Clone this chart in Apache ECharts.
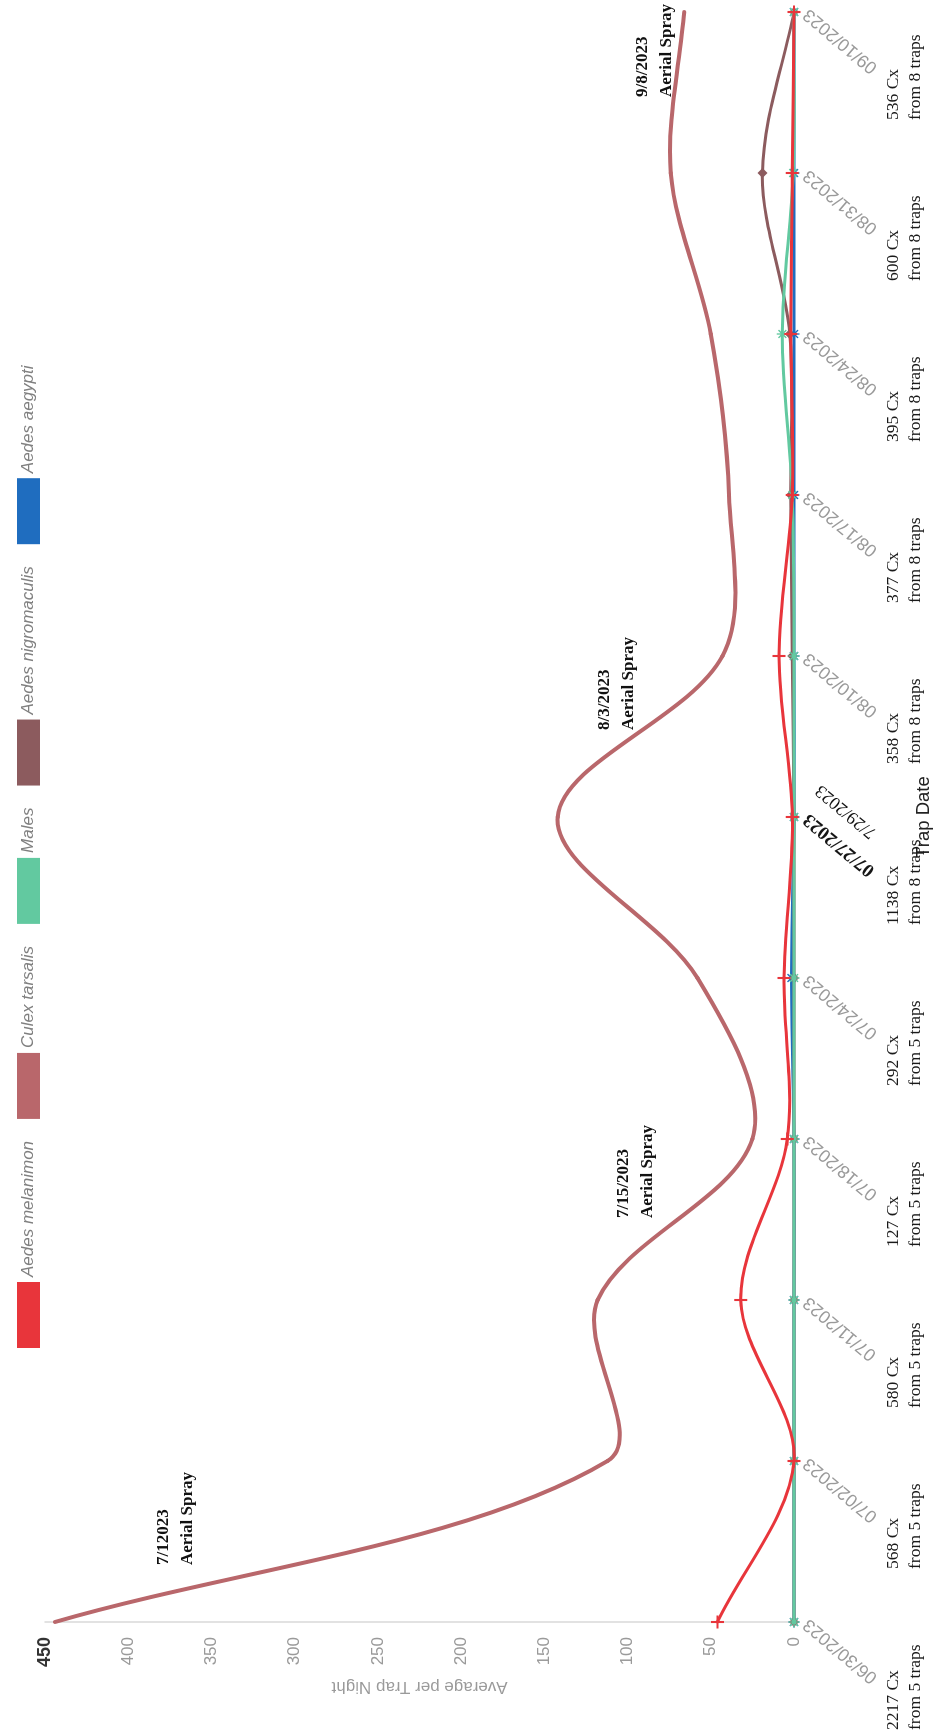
<!DOCTYPE html>
<html>
<head>
<meta charset="utf-8">
<script src="https://cdn.jsdelivr.net/npm/echarts@6/dist/echarts.min.js"></script>
<style>
html,body{margin:0;padding:0;background:#fff;}
#page{position:relative;width:942px;height:1731px;overflow:hidden;background:#fff;}
#chart{position:absolute;left:0;top:0;width:1731px;height:942px;transform-origin:0 0;transform:translate(0,1731px) rotate(-90deg);}
</style>
</head>
<body>
<div id="page"><div id="chart"></div></div>
<script>
// ---- data ----
const categories = ['06/30/2023','07/02/2023','07/11/2023','07/18/2023','07/24/2023','07/27/2023','08/10/2023','08/17/2023','08/24/2023','08/31/2023','09/10/2023'];
const aedesMelanimon   = [46, 0, 32, 4, 6, 1, 9, 1, 2, 1, 0];
const culexTarsalis    = [444, 112, 118, 25, 58, 142, 43, 39, 50, 74, 66];
const males            = [0, 0, 0, 0, 0, 0, 0, 1, 7, 0.5, 0];
const aedesNigromaculis= [0, 0, 0, 0, 0, 0, 1, 2, 2.5, 19, 0];
const aedesAegypti     = [0, 0, 0, 0, 1.5, 0, 0, 0, 0, 0, 0];
const cxCounts   = ['2217 Cx','568 Cx','580 Cx','127 Cx','292 Cx','1138 Cx','358 Cx','377 Cx','395 Cx','600 Cx','536 Cx'];
const trapCounts = ['from 5 traps','from 5 traps','from 5 traps','from 5 traps','from 5 traps','from 8 traps','from 8 traps','from 8 traps','from 8 traps','from 8 traps','from 8 traps'];
const valueTicks = [0, 450, 50];   // min, max, interval
const sprayNotes = ['7/12023\nAerial Spray','7/15/2023\nAerial Spray','8/3/2023\nAerial Spray','9/8/2023\nAerial Spray'];
const dateCorrection = '7/29/2023';

// ---- chart ----
const SANS = 'Liberation Sans, Arial, sans-serif';
const SERIF = 'Liberation Serif, Times New Roman, serif';
const PLUS = 'M0,4.2H10V5.8H0Z M4.2,0H5.8V10H4.2Z';
const STAR = 'M4.4,0h1.2v10h-1.2z M0,4.4h10v1.2h-10z M1.0,1.9l0.9,-0.9l7.1,7.1l-0.9,0.9z M8.1,1.0l0.9,0.9l-7.1,7.1l-0.9,-0.9z';
const DIAMOND = 'M5,0L10,5L5,10L0,5Z';
const SMOOTH = 0.33;

const chart = echarts.init(document.getElementById('chart'), null, {width:1731, height:942});

// Excel-like smoothed line: control points from neighbouring points (no clamping),
// all positions come from the axes via api.coord.
function ctrl(P, k, n, dir) {
  const p = P(k), prev = P(Math.max(k - 1, 0)), next = P(Math.min(k + 1, n - 1));
  const vx = next[0] - prev[0], vy = next[1] - prev[1];
  const lp = Math.hypot(p[0] - prev[0], p[1] - prev[1]);
  const ln = Math.hypot(next[0] - p[0], next[1] - p[1]);
  const r = (lp + ln) ? ln / (lp + ln) : 0.5;
  if (dir === 'out') return [p[0] + vx * SMOOTH * r, p[1] + vy * SMOOTH * r];
  return [p[0] - vx * SMOOTH * (1 - r), p[1] - vy * SMOOTH * (1 - r)];
}

function curveSeries(name, values, color, width, marker, size) {
  return {
    name, type:'custom', coordinateSystem:'cartesian2d',
    data: values.map((v, i) => [i, v]),
    itemStyle:{color},
    clip:false,
    silent:true,
    animation:false,
    renderItem:(params, api) => {
      const i = params.dataIndex, n = values.length;
      const P = k => api.coord([k, values[k]]);
      const children = [];
      if (i < n - 1) {
        const p0 = P(i), p1 = P(i + 1);
        const c0 = ctrl(P, i, n, 'out'), c1 = ctrl(P, i + 1, n, 'in');
        children.push({
          type:'bezierCurve',
          shape:{x1:p0[0], y1:p0[1], x2:p1[0], y2:p1[1], cpx1:c0[0], cpy1:c0[1], cpx2:c1[0], cpy2:c1[1]},
          style:{stroke:color, lineWidth:width, fill:null, lineCap:'round'}
        });
      }
      if (marker) {
        const p = P(i);
        children.push({
          type:'path',
          shape:{pathData:marker, x:p[0] - size / 2, y:p[1] - size / 2, width:size, height:size, layout:'cover'},
          style:{fill:color}
        });
      }
      return {type:'group', children};
    }
  };
}

function note(text, x, y) {
  return {
    type:'text', x, y, z:100,
    style:{text, fill:'#111', fontFamily:SERIF, fontWeight:'bold', fontSize:17, lineHeight:24, align:'left', verticalAlign:'top'}
  };
}

chart.setOption({
  backgroundColor:'#fff',
  animation:false,
  legend:{
    left:378, top:12, icon:'rect', itemWidth:66, itemHeight:23, itemGap:22,
    data:['Aedes melanimon','Culex tarsalis','Males','Aedes nigromaculis','Aedes aegypti'],
    textStyle:{fontFamily:SANS, fontStyle:'italic', fontSize:17, color:'#808080'}
  },
  grid:{left:109, right:12, top:45, bottom:148, outerBoundsMode:'none', containLabel:false},
  xAxis:[{
    type:'category', data:categories, boundaryGap:false,
    axisLine:{show:true, lineStyle:{color:'#b8b8b8', width:1.5}},
    axisTick:{show:false},
    axisLabel:{
      interval:0, rotate:50, margin:12, fontFamily:SANS, fontSize:18, color:'#9a9a9a',
      formatter:(v) => v === '07/27/2023' ? '{dk|' + v + '}' : v,
      rich:{dk:{fontFamily:SERIF, fontWeight:'bold', fontSize:19, color:'#151515'}}
    },
    name:'Trap Date', nameLocation:'middle', nameGap:120, nameMoveOverlap:false,
    nameTextStyle:{fontFamily:SANS, fontSize:18.5, color:'#222'}
  },{
    type:'category', data:categories, boundaryGap:false, position:'bottom', offset:0,
    axisLine:{show:false}, axisTick:{show:false},
    axisLabel:{
      interval:0, margin:88, align:'center', verticalAlign:'top', padding:[0,124,0,0],
      formatter:(v, i) => '{a|' + cxCounts[i] + '}\n{a|' + trapCounts[i] + '}',
      rich:{a:{width:92, align:'left', fontFamily:SERIF, fontSize:17.5, lineHeight:22, color:'#1a1a1a'}}
    }
  }],
  yAxis:{
    type:'value', min:valueTicks[0], max:valueTicks[1], interval:valueTicks[2],
    axisLine:{show:true, lineStyle:{color:'#d9d9d9', width:1.5}},
    axisTick:{show:false},
    splitLine:{show:false},
    axisLabel:{
      margin:15, fontFamily:SANS, fontSize:17, color:'#9a9a9a',
      formatter:(v) => v === valueTicks[1] ? '{dk|' + v + '}' : String(v),
      rich:{dk:{fontFamily:SANS, fontWeight:'bold', fontSize:18, color:'#333'}}
    },
    name:'Average per Trap Night', nameLocation:'middle', nameGap:52, nameRotate:90,
    nameTextStyle:{fontFamily:SANS, fontSize:17, color:'#9a9a9a'}
  },
  series:[
    curveSeries('Aedes aegypti', aedesAegypti, '#1f6dbf', 3, STAR, 11),
    curveSeries('Aedes nigromaculis', aedesNigromaculis, '#8c5b5e', 3, DIAMOND, 10),
    curveSeries('Males', males, '#62c9a0', 3, STAR, 11),
    curveSeries('Culex tarsalis', culexTarsalis, '#b9676b', 4, null, 0),
    curveSeries('Aedes melanimon', aedesMelanimon, '#e8353b', 3, PLUS, 13)
  ],
  graphic:[
    note(sprayNotes[0], 166, 152),
    note(sprayNotes[1], 513, 612),
    note(sprayNotes[2], 1001, 593),
    note(sprayNotes[3], 1634, 631),
    {
      type:'text', x:943, y:818, rotation:50 * Math.PI / 180, z:100,
      style:{text:dateCorrection, fill:'#111', fontFamily:SERIF, fontSize:18, align:'right', verticalAlign:'middle'}
    }
  ]
});
</script>
</body>
</html>
